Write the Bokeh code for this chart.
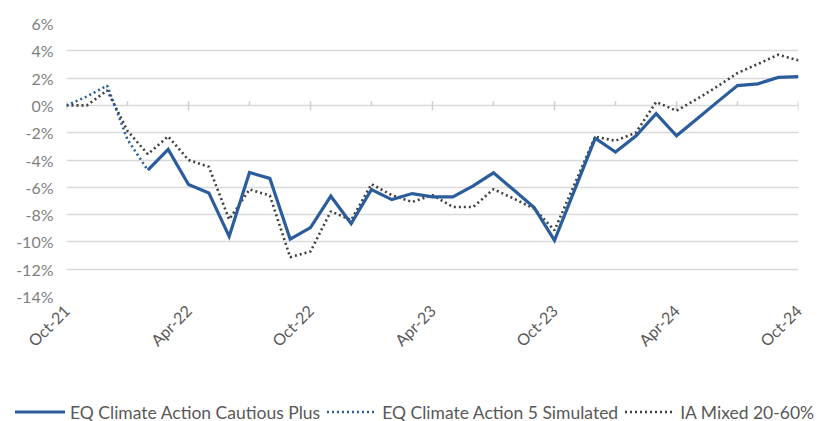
from bokeh.plotting import figure
from bokeh.layouts import column
from bokeh.models import FixedTicker, Range1d, Div
from bokeh.embed import file_html
from bokeh.resources import INLINE

months = ["Oct-21", "Nov-21", "Dec-21", "Jan-22", "Feb-22", "Mar-22", "Apr-22",
          "May-22", "Jun-22", "Jul-22", "Aug-22", "Sep-22", "Oct-22", "Nov-22",
          "Dec-22", "Jan-23", "Feb-23", "Mar-23", "Apr-23", "May-23", "Jun-23",
          "Jul-23", "Aug-23", "Sep-23", "Oct-23", "Nov-23", "Dec-23", "Jan-24",
          "Feb-24", "Mar-24", "Apr-24", "May-24", "Jun-24", "Jul-24", "Aug-24",
          "Sep-24", "Oct-24"]

# EQ Climate Action 5 Simulated (Oct-21 .. Feb-22)
simulated = [0.0, 0.65, 1.45, -2.5, -4.75]

# EQ Climate Action Cautious Plus (Feb-22 .. Oct-24)
cautious = [-4.75, -3.22, -5.8, -6.41, -9.6, -4.92, -5.35, -9.8, -8.95, -6.65,
            -8.66, -6.16, -6.9, -6.46, -6.7, -6.7, -5.9, -4.94, -6.2, -7.49,
            -9.89, -6.15, -2.41, -3.42, -2.24, -0.6, -2.23, -0.99, 0.24, 1.45,
            1.58, 2.05, 2.11]

# IA Mixed 20-60% (Oct-21 .. Oct-24)
ia_mixed = [0.0, 0.0, 1.1, -1.87, -3.57, -2.27, -4.0, -4.5, -8.35, -6.16,
            -6.6, -11.12, -10.7, -7.76, -8.4, -5.77, -6.58, -7.07, -6.58, -7.44,
            -7.44, -6.14, -6.83, -7.56, -9.15, -5.72, -2.29, -2.59, -2.0, 0.25,
            -0.39, 0.46, 1.38, 2.37, 3.03, 3.71, 3.3]

series_names = ["EQ Climate Action Cautious Plus", "EQ Climate Action 5 Simulated",
                "IA Mixed 20-60%"]

y_ticks = [-14, -12, -10, -8, -6, -4, -2, 0, 2, 4, 6]
label_every = 6
minor_every = 3

x_all = list(range(len(months)))
x_sim = x_all[:len(simulated)]
x_cau = x_all[len(months) - len(cautious):]

BLUE = "#2b5c9c"
DARK = "#3f3f3f"
GRID = "#d9d9d9"
FONT = "Lato"

p = figure(width=830, height=403, output_backend="svg", toolbar_location=None,
           x_range=Range1d(0, len(months) - 1), y_range=Range1d(min(y_ticks), max(y_ticks)),
           min_border_left=66, min_border_right=32, min_border_top=23,
           min_border_bottom=107)
p.outline_line_color = None
p.background_fill_color = "white"
p.border_fill_color = "white"

# grid
p.xgrid.visible = False
p.ygrid.ticker = FixedTicker(ticks=y_ticks)
p.ygrid.grid_line_color = GRID
p.ygrid.grid_line_width = 1.6

# y axis
p.yaxis.ticker = FixedTicker(ticks=y_ticks)
p.yaxis.major_label_overrides = {t: f"{t}%" for t in y_ticks}
p.yaxis.axis_line_color = None
p.yaxis.major_tick_line_color = None
p.yaxis.minor_tick_line_color = None
p.yaxis.major_label_standoff = 7
p.yaxis.major_label_text_font = FONT
p.yaxis.major_label_text_font_size = "16px"
p.yaxis.major_label_text_color = "#808080"

# x axis (labels only, at bottom)
label_pos = x_all[::label_every]
p.xaxis.ticker = FixedTicker(ticks=label_pos)
p.xaxis.major_label_overrides = {i: months[i] for i in label_pos}
p.xaxis.major_label_orientation = 0.785398
p.xaxis.axis_line_color = None
p.xaxis.major_tick_line_color = None
p.xaxis.minor_tick_line_color = None
p.xaxis.major_label_standoff = 5
p.xaxis.major_label_text_font = FONT
p.xaxis.major_label_text_font_size = "16px"
p.xaxis.major_label_text_color = "#595959"

# category axis tick marks on the zero line
minor_pos = [i for i in x_all[::minor_every] if i % label_every != 0]
p.segment(x0=label_pos, x1=label_pos, y0=[0.3] * len(label_pos), y1=[-0.35] * len(label_pos),
          line_color="#cfcfcf", line_width=1.5)
p.segment(x0=minor_pos, x1=minor_pos, y0=[0.3] * len(minor_pos), y1=[0.0] * len(minor_pos),
          line_color="#cfcfcf", line_width=1.5)

styles = [
    dict(line_color=BLUE, line_width=3.2),
    dict(line_color=BLUE, line_width=2.6, line_dash="2 3"),
    dict(line_color=DARK, line_width=2.6, line_dash="2 3"),
]

p.line(x_all, ia_mixed, **styles[2])
p.line(x_sim, simulated, **styles[1])
p.line(x_cau, cautious, line_join="miter", **styles[0])

# legend strip below the chart
def key_svg(s):
    dash = s.get("line_dash", "")
    dash_attr = f' stroke-dasharray="{dash}"' if dash else ""
    return (f'<svg width="50" height="8" style="flex:none">'
            f'<line x1="0" y1="4" x2="50" y2="4" stroke="{s["line_color"]}" '
            f'stroke-width="{s["line_width"]}"{dash_attr}/></svg>')

parts = []
for name, s in zip(series_names, styles):
    parts.append(key_svg(s) +
                 f'<span style="margin:0 7px 0 5px">{name}</span>')
html = ('<div style="display:flex;align-items:center;height:18px;padding-left:15px;'
        f'font-family:{FONT};font-size:17.5px;color:#595959;white-space:nowrap;">'
        + "".join(parts) + '</div>')
leg = Div(text=html, width=830, height=18, margin=0)

layout = column(p, leg, spacing=0)
open("out.html", "w").write(file_html(layout, INLINE))
